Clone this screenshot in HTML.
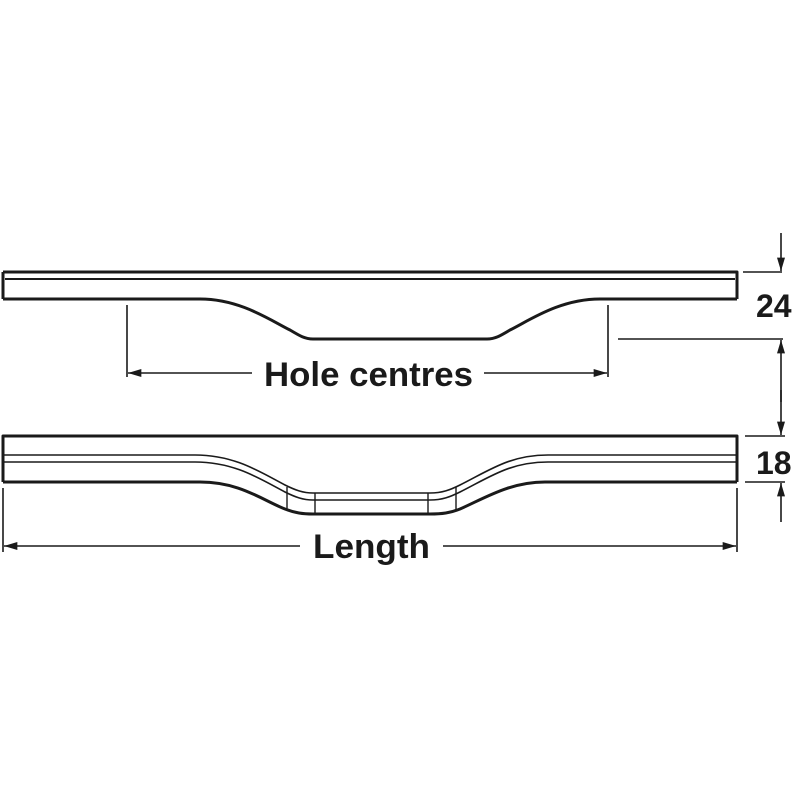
<!DOCTYPE html>
<html><head><style>html,body{margin:0;padding:0;background:#fff}svg{display:block}</style></head>
<body>
<svg width="800" height="800" viewBox="0 0 800 800" xmlns="http://www.w3.org/2000/svg">
<defs>
<marker id="a" viewBox="0 0 10 6" refX="10" refY="3" markerWidth="24" markerHeight="8" markerUnits="userSpaceOnUse" orient="auto">
<path d="M0,0 L10,3 L0,6 Z" fill="#1a1a1a"/></marker>
</defs>
<g fill="none" stroke="#1a1a1a" stroke-linejoin="round">
<!-- top bar -->
<path d="M3,272 H737 V299" stroke-width="3"/>
<path d="M3,272 V299" stroke-width="3"/>
<path d="M5,279 H735" stroke-width="2"/>
<path d="M3,299 H200 C240,299 270,320 290,330 C300,336 305,339 313,339 H487 C495,339 500,336 510,330 C530,320 560,299 600,299 H737" stroke-width="3"/>
<!-- hole centres -->
<path d="M127,305 V377 M608,305 V377" stroke-width="1.6"/>
<path d="M252,373 H128" stroke-width="1.6" marker-end="url(#a)"/>
<path d="M484,373 H607" stroke-width="1.6" marker-end="url(#a)"/>
<!-- bottom bar -->
<path d="M3,482 V436 H737 V482" stroke-width="3"/>
<path d="M3,455 H195 C235,455 260,472 285,485 C295,490 303,493 313,493 H430 C442,493 450,490 460,485 C490,470 510,455 548,455 H737" stroke-width="1.6"/>
<path d="M3,462 H195 C235,462 260,479 285,492 C295,497 303,500 313,500 H430 C442,500 450,497 460,492 C490,477 510,462 548,462 H737" stroke-width="1.6"/>
<path d="M3,482 H200 C240,482 262,500 285,509 C295,513 303,514 313,514 H430 C442,514 450,513 460,509 C485,498 510,482 545,482 H737" stroke-width="3"/>
<path d="M287,487 V511 M315,493 V514 M428,493 V514 M456,487 V511" stroke-width="1.4"/>
<!-- length -->
<path d="M3,488 V552 M737,488 V552" stroke-width="1.6"/>
<path d="M300,546 H4" stroke-width="1.6" marker-end="url(#a)"/>
<path d="M443,546 H736" stroke-width="1.6" marker-end="url(#a)"/>
<!-- right dims -->
<path d="M743,272 H782 M618,339 H783 M745,436 H785 M745,482 H785" stroke-width="1.6"/>
<path d="M781,233 V271" stroke-width="1.6" marker-end="url(#a)"/>
<path d="M781,402 V340" stroke-width="1.6" marker-end="url(#a)"/>
<path d="M781,390 V435" stroke-width="1.6" marker-end="url(#a)"/>
<path d="M781,522 V483" stroke-width="1.6" marker-end="url(#a)"/>
</g>
<g font-family="Liberation Sans, Arial, sans-serif" font-weight="bold" fill="#1a1a1a">
<text x="264" y="386" font-size="34" textLength="209" lengthAdjust="spacingAndGlyphs">Hole centres</text>
<text x="313" y="558" font-size="34" textLength="117" lengthAdjust="spacingAndGlyphs">Length</text>
<text x="756" y="317" font-size="32">24</text>
<text x="756" y="474" font-size="32">18</text>
</g>
</svg>
</body></html>
